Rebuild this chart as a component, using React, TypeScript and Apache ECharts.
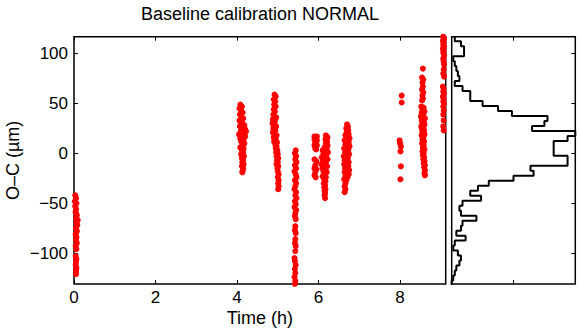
import { useEffect, useRef } from "react";
import * as echarts from "echarts";

const TITLE = "Baseline calibration NORMAL";
const X_NAME = "Time (h)";
const Y_NAME = "O–C (µm)";
const X_TICKS = [0, 2, 4, 6, 8];
const Y_TICKS = [-100, -50, 0, 50, 100];
const X_MIN = 0;
const X_MAX = 9.12;
const Y_MIN = -131;
const Y_MAX = 117;

// scatter clusters: [time (h), O-C (µm)]
const clusterA: [number, number][] = [
  [0.03, -42], [0.05, -45], [0.02, -48], [0.06, -50], [0.03, -53], [0.05, -56], [0.04, -59],
  [0.07, -62], [0.05, -65], [0.09, -67], [0.06, -70], [0.08, -72], [0.05, -75], [0.07, -78],
  [0.04, -81], [0.06, -84], [0.05, -87], [0.07, -90], [0.04, -93], [0.06, -96], [0.04, -103],
  [0.06, -106], [0.05, -109], [0.04, -112], [0.06, -115], [0.05, -118], [0.05, -121],
];
const clusterB: [number, number][] = [
  [4.08, 49], [4.12, 47], [4.06, 45], [4.1, 43], [4.14, 41], [4.07, 39], [4.11, 37], [4.15, 35],
  [4.06, 33], [4.1, 31], [4.14, 30], [4.18, 28], [4.07, 27], [4.12, 25], [4.2, 24], [4.22, 22],
  [4.09, 22], [4.15, 21], [4.05, 19], [4.12, 18], [4.2, 17], [4.08, 15], [4.16, 14], [4.1, 12],
  [4.18, 10], [4.13, 8], [4.08, 6], [4.16, 5], [4.12, 3], [4.15, 1], [4.1, -1], [4.17, -3],
  [4.12, -5], [4.15, -7], [4.13, -9], [4.16, -11], [4.12, -13], [4.15, -15], [4.14, -17], [4.13, -19],
];
const clusterC: [number, number][] = [
  [4.92, 59], [4.95, 57], [4.9, 54], [4.94, 52], [4.91, 49], [4.95, 47], [4.9, 44], [4.93, 42],
  [4.89, 39], [4.92, 37], [4.96, 36], [4.88, 34], [4.93, 32], [4.87, 30], [4.91, 28], [4.96, 27],
  [4.89, 25], [4.94, 23], [4.88, 21], [4.92, 19], [4.97, 18], [4.9, 16], [4.95, 14], [4.91, 12],
  [4.98, 11], [4.94, 9], [4.97, 7], [4.95, 5], [4.99, 3], [4.96, 1], [5.0, -1], [4.97, -3],
  [5.01, -5], [4.98, -7], [5.0, -9], [4.97, -11], [5.01, -13], [4.99, -15], [5.0, -18], [5.02, -21],
  [5.0, -24], [5.02, -27], [5.01, -30], [5.02, -33], [5.01, -36],
];
const clusterD: [number, number][] = [
  [5.44, 3], [5.42, 0], [5.45, -3], [5.43, -6], [5.46, -9], [5.42, -12], [5.45, -15], [5.41, -18],
  [5.44, -21], [5.46, -24], [5.42, -27], [5.45, -30], [5.43, -33], [5.41, -36], [5.45, -39],
  [5.43, -42], [5.46, -45], [5.42, -48], [5.44, -51], [5.41, -54], [5.45, -57], [5.43, -60],
  [5.42, -63], [5.44, -66], [5.43, -73], [5.42, -77], [5.44, -80], [5.43, -86], [5.42, -90],
  [5.44, -93], [5.43, -98], [5.41, -105], [5.42, -108], [5.44, -112], [5.42, -116], [5.43, -120],
  [5.41, -124], [5.43, -128], [5.42, -131],
];
const clusterE: [number, number][] = [
  [5.9, 17], [5.96, 17], [5.9, 14], [5.96, 13], [5.92, 11], [5.9, 8], [5.96, 8], [5.92, 5],
  [5.94, 4], [5.9, -6], [5.95, -8], [5.92, -12], [5.9, -15], [5.95, -16], [5.92, -19], [5.9, -22],
  [5.93, -24],
];
const clusterF: [number, number][] = [
  [6.18, 18], [6.22, 16], [6.17, 14], [6.21, 12], [6.18, 10], [6.22, 8], [6.15, 6], [6.2, 5],
  [6.1, 3], [6.16, 2], [6.23, 1], [6.12, -1], [6.19, -2], [6.08, -4], [6.15, -5], [6.22, -6],
  [6.11, -8], [6.18, -9], [6.07, -11], [6.14, -12], [6.21, -13], [6.1, -15], [6.17, -16],
  [6.12, -18], [6.2, -19], [6.15, -21], [6.1, -23], [6.18, -24], [6.14, -26], [6.17, -28],
  [6.13, -30], [6.16, -32], [6.14, -34], [6.17, -36], [6.15, -38], [6.16, -40], [6.15, -42],
  [6.16, -45],
];
const clusterG: [number, number][] = [
  [6.7, 29], [6.72, 27], [6.68, 25], [6.73, 23], [6.69, 21], [6.74, 19], [6.66, 18], [6.71, 16],
  [6.76, 15], [6.64, 13], [6.69, 12], [6.74, 11], [6.66, 9], [6.71, 8], [6.76, 7], [6.63, 5],
  [6.68, 4], [6.73, 3], [6.65, 1], [6.7, 0], [6.75, -1], [6.62, -3], [6.67, -4], [6.72, -5],
  [6.64, -7], [6.69, -8], [6.74, -9], [6.63, -11], [6.68, -12], [6.73, -13], [6.65, -15],
  [6.7, -16], [6.75, -17], [6.64, -19], [6.69, -20], [6.74, -21], [6.66, -23], [6.71, -24],
  [6.63, -26], [6.68, -27], [6.66, -30], [6.64, -33], [6.66, -36], [6.64, -39],
];
const clusterH: [number, number][] = [
  [8.04, 58], [8.04, 51], [7.99, 13], [8.0, 10], [8.02, 7], [8.01, 2], [8.02, -13], [8.01, -26],
];
const clusterI: [number, number][] = [
  [8.56, 85], [8.54, 76], [8.57, 74], [8.55, 71], [8.56, 67], [8.54, 64], [8.57, 61], [8.55, 58],
  [8.56, 55], [8.54, 53], [8.52, 47], [8.58, 46], [8.55, 44], [8.6, 42], [8.53, 41], [8.57, 39],
  [8.51, 37], [8.56, 36], [8.61, 35], [8.53, 33], [8.58, 32], [8.55, 30], [8.6, 29], [8.52, 27],
  [8.57, 26], [8.54, 24], [8.59, 23], [8.55, 21], [8.6, 19], [8.53, 18], [8.57, 16], [8.55, 14],
  [8.59, 12], [8.54, 10], [8.58, 8], [8.56, 6], [8.6, 4], [8.55, 2], [8.58, 0], [8.56, -2],
  [8.59, -4], [8.57, -6], [8.6, -8], [8.58, -10], [8.61, -12], [8.59, -14], [8.61, -17],
  [8.6, -20], [8.61, -22],
];
const clusterJ: [number, number][] = [
  [9.06, 117], [9.08, 115], [9.05, 113], [9.07, 111], [9.06, 109], [9.08, 107], [9.05, 105],
  [9.07, 103], [9.06, 101], [9.08, 98], [9.06, 95], [9.07, 92], [9.08, 89], [9.07, 84], [9.06, 80],
  [9.08, 77], [9.05, 67], [9.07, 65], [9.06, 62], [9.08, 60], [9.05, 57], [9.07, 55], [9.06, 52],
  [9.08, 50], [9.06, 47], [9.07, 43], [9.06, 39], [9.07, 33], [9.06, 27], [9.07, 23],
];

// histogram: bin centres (µm) and counts
const HIST_CENTERS = [
  115, 110, 105, 100, 95, 90, 85, 80, 75, 70, 65, 60, 55, 50, 45, 40, 35, 30, 25, 20, 15, 10, 5, 0,
  -5, -10, -15, -20, -25, -30, -35, -40, -45, -50, -55, -60, -65, -70, -75, -80, -85, -90, -95,
  -100, -105, -110, -115, -120, -125, -130,
];
const HIST_COUNTS = [
  2, 6, 8, 8, 1, 2, 3, 4, 5, 2, 7, 12, 12, 20, 30, 39, 62, 60, 52, 80, 75, 66, 66, 66,
  75, 75, 51, 53, 40, 24, 17, 12, 19, 7, 5, 6, 16, 7, 6, 3, 9, 2, 1,
  4, 6, 5, 3, 2, 1, 0,
];
const BIN_WIDTH = 5;
const HIST_MAX = 80;
const HIST_TICKS = [40];

export default function App() {
  const ref = useRef<HTMLDivElement>(null);
  useEffect(() => {
    if (!ref.current) return;
    const chart = echarts.init(ref.current, undefined, { renderer: "svg" });
    const scatterData = [
      ...clusterA, ...clusterB, ...clusterC, ...clusterD, ...clusterE,
      ...clusterF, ...clusterG, ...clusterH, ...clusterI, ...clusterJ,
    ];
    const stepPts: [number, number][] = [];
    HIST_CENTERS.forEach((c, i) => {
      stepPts.push([HIST_COUNTS[i], c + BIN_WIDTH / 2]);
      stepPts.push([HIST_COUNTS[i], c - BIN_WIDTH / 2]);
    });
    stepPts.push([0, HIST_CENTERS[HIST_CENTERS.length - 1] - BIN_WIDTH / 2]);

    const font = "Liberation Sans, Arial, Helvetica, sans-serif";
    const fmt = (v: number) => String(v).replace("-", "\u2212");
    const tick = { show: true, inside: true, length: 4, lineStyle: { color: "#000", width: 1 } };
    const noLine = { show: false, onZero: false };
    const mainGrid = { left: 74, top: 36.7, width: 371.7, height: 247.3 };
    const histGrid = { left: 451.7, top: 36.7, width: 123.6, height: 247.3 };
    const border = {
      show: true, borderColor: "#000", borderWidth: 1.5, backgroundColor: "#fff",
      containLabel: false, outerBoundsMode: "none",
    };

    chart.setOption({
      animation: false,
      backgroundColor: "#fff",
      textStyle: { fontFamily: font },
      title: {
        text: TITLE,
        left: 260,
        textAlign: "center",
        top: 5,
        padding: 0,
        textStyle: { fontSize: 18, fontWeight: "normal", color: "#000", fontFamily: font },
      },
      grid: [
        { ...mainGrid, ...border },
        { ...histGrid, ...border },
      ],
      xAxis: [
        {
          gridIndex: 0, type: "value", min: X_MIN, max: X_MAX, position: "bottom",
          axisLine: noLine,
          axisTick: { ...tick, customValues: X_TICKS },
          axisLabel: { customValues: X_TICKS, fontSize: 17, color: "#000", margin: 5, fontFamily: font },
          splitLine: { show: false },
          name: X_NAME, nameLocation: "middle", nameGap: 25, nameMoveOverlap: false,
          nameTextStyle: { fontSize: 18, color: "#000", fontFamily: font },
        },
        {
          gridIndex: 0, type: "value", min: X_MIN, max: X_MAX, position: "top",
          axisLine: noLine,
          axisTick: { ...tick, customValues: X_TICKS },
          axisLabel: { show: false },
          splitLine: { show: false },
        },
        {
          gridIndex: 1, type: "value", min: 0, max: HIST_MAX, position: "bottom",
          axisLine: noLine,
          axisTick: { ...tick, customValues: HIST_TICKS },
          axisLabel: { show: false },
          splitLine: { show: false },
        },
        {
          gridIndex: 1, type: "value", min: 0, max: HIST_MAX, position: "top",
          axisLine: noLine,
          axisTick: { ...tick, customValues: HIST_TICKS },
          axisLabel: { show: false },
          splitLine: { show: false },
        },
      ],
      yAxis: [
        {
          gridIndex: 0, type: "value", min: Y_MIN, max: Y_MAX, position: "left",
          axisLine: noLine,
          axisTick: { ...tick, customValues: Y_TICKS },
          axisLabel: { customValues: Y_TICKS, fontSize: 17, color: "#000", margin: 6, formatter: fmt, fontFamily: font },
          splitLine: { show: false },
          name: Y_NAME, nameLocation: "middle", nameGap: 52, nameRotate: 90, nameMoveOverlap: false,
          nameTextStyle: { fontSize: 18, color: "#000", fontFamily: font },
        },
        {
          gridIndex: 1, type: "value", min: Y_MIN, max: Y_MAX, position: "right",
          axisLine: noLine,
          axisTick: { ...tick, customValues: Y_TICKS },
          axisLabel: { show: false },
          splitLine: { show: false },
        },
      ],
      series: [
        {
          type: "scatter", xAxisIndex: 0, yAxisIndex: 0, data: scatterData,
          symbol: "circle", symbolSize: 6, itemStyle: { color: "#ff0000", opacity: 1 },
          clip: true, silent: true,
        },
        {
          type: "line", xAxisIndex: 2, yAxisIndex: 1, data: stepPts,
          showSymbol: false, symbol: "none", clip: true, silent: true,
          lineStyle: { color: "#000", width: 2 },
        },
      ],
    });
    return () => chart.dispose();
  }, []);
  return <div ref={ref} style={{ position: "fixed", left: 0, top: 0, width: 581, height: 330 }} />;
}
